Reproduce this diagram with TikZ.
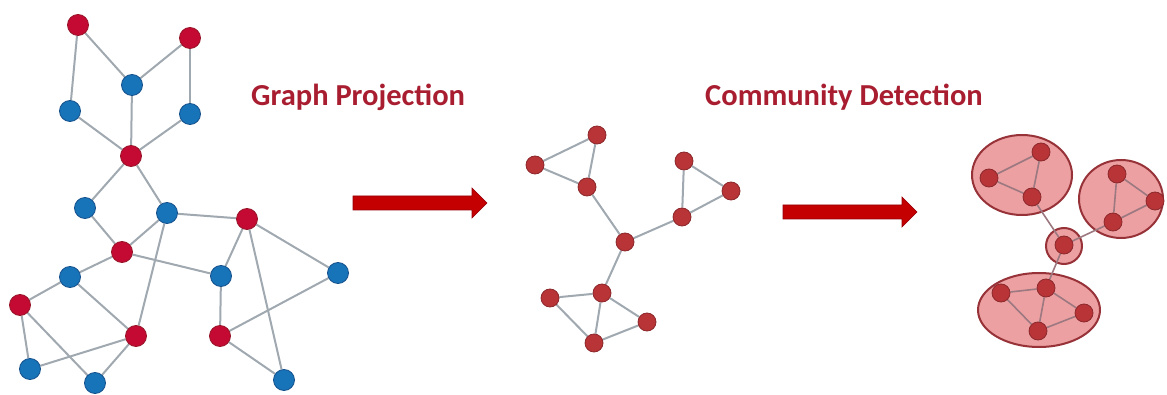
\documentclass[tikz,border=0pt]{standalone}
\usepackage{fontspec}
\setmainfont{Carlito}
\usetikzlibrary{shapes.geometric}
\definecolor{redN}{RGB}{196,10,50}
\definecolor{redNd}{RGB}{150,20,40}
\definecolor{blueN}{RGB}{24,116,184}
\definecolor{blueNd}{RGB}{20,80,140}
\definecolor{edgeG}{RGB}{160,168,176}
\definecolor{projN}{RGB}{184,52,54}
\definecolor{projNd}{RGB}{140,40,44}
\definecolor{commFill}{RGB}{236,160,162}
\definecolor{commLine}{RGB}{150,50,56}
\definecolor{arrowR}{RGB}{196,0,0}
\definecolor{arrowRd}{RGB}{150,0,10}
\definecolor{titleR}{RGB}{168,30,48}
\pgfdeclarelayer{back}
\pgfdeclarelayer{mid}
\pgfsetlayers{back,mid,main}
\tikzset{
  rn/.style={circle,fill=redN,draw=redNd,line width=0.8pt,minimum size=21pt,inner sep=0pt},
  bn/.style={circle,fill=blueN,draw=blueNd,line width=0.8pt,minimum size=21pt,inner sep=0pt},
  pn/.style={circle,fill=projN,draw=projNd,line width=0.8pt,minimum size=18pt,inner sep=0pt},
  ln/.style={edgeG,line width=2pt},
  cln/.style={edgeG!60!commLine,line width=1.6pt},
  comm/.style={ellipse,fill=commFill,draw=commLine,line width=2pt,inner sep=0pt},
  bigarrow/.style={fill=arrowR,draw=arrowRd,line width=0.6pt},
  title/.style={font=\bfseries\fontsize{30.5}{33}\selectfont,text=titleR,anchor=base west,inner sep=0pt}
}
\begin{document}
\begin{tikzpicture}[x=1pt,y=-1pt]
\useasboundingbox (0,0) rectangle (1167,395);

% ---- bipartite graph ----
\node[rn] (r1) at (78,25) {};
\node[rn] (r2) at (190,38) {};
\node[bn] (b1) at (132,85) {};
\node[bn] (b2) at (70,111) {};
\node[bn] (b3) at (190,114) {};
\node[rn] (r3) at (131,156) {};
\node[bn] (b4) at (85,208) {};
\node[bn] (b5) at (167,213) {};
\node[rn] (r4) at (247,219) {};
\node[rn] (r5) at (122,252) {};
\node[bn] (b6) at (70,277) {};
\node[bn] (b7) at (221,276) {};
\node[bn] (b8) at (338,273) {};
\node[rn] (r6) at (20,305) {};
\node[rn] (r7) at (136,336) {};
\node[rn] (r8) at (220,336) {};
\node[bn] (b9) at (30,369) {};
\node[bn] (b10) at (95,383) {};
\node[bn] (b11) at (284,380) {};

% ---- projected graph ----
\node[pn] (m1) at (597,135) {};
\node[pn] (m2) at (535,165) {};
\node[pn] (m3) at (587,187) {};
\node[pn] (m4) at (684,161) {};
\node[pn] (m5) at (731,191) {};
\node[pn] (m6) at (682,217) {};
\node[pn] (m7) at (625,242) {};
\node[pn] (m8) at (602,293) {};
\node[pn] (m9) at (550,298) {};
\node[pn] (m10) at (647,322) {};
\node[pn] (m11) at (594,343) {};

% ---- detected communities ----
\begin{pgfonlayer}{back}
\node[comm,minimum width=100pt,minimum height=80pt] (ca) at (1022,175) {};
\node[comm,minimum width=84pt,minimum height=78pt] (cb) at (1121,199) {};
\node[comm,minimum width=122pt,minimum height=74pt] (cc) at (1039,310) {};
\node[comm,minimum width=36pt,minimum height=36pt] (cd) at (1064,246) {};
\end{pgfonlayer}

\node[pn] (c1) at (1041,152) {};
\node[pn] (c2) at (989,178) {};
\node[pn] (c3) at (1032,197) {};
\node[pn] (c4) at (1117,174) {};
\node[pn] (c5) at (1155,201) {};
\node[pn] (c6) at (1113,222) {};
\node[pn] (c7) at (1064,245) {};
\node[pn] (c8) at (1001,293) {};
\node[pn] (c9) at (1046,288) {};
\node[pn] (c10) at (1084,313) {};
\node[pn] (c11) at (1038,331) {};

% ---- edges, kept under the nodes ----
\begin{pgfonlayer}{mid}
\foreach \a/\b in {r1/b2,r1/b1,r2/b1,r2/b3,b1/r3,b2/r3,b3/r3,r3/b4,r3/b5,
  b4/r5,b5/r5,b5/r4,b5/r7,r5/b6,r5/b7,r4/b7,r4/b8,r4/b11,b6/r6,b6/r7,
  r6/b9,r6/b10,r7/b9,r7/b10,b7/r8,r8/b8,r8/b11}
  \draw[ln] (\a) -- (\b);
\foreach \a/\b in {m1/m2,m1/m3,m2/m3,m3/m7,m4/m5,m4/m6,m5/m6,m6/m7,m7/m8,
  m8/m9,m8/m10,m8/m11,m9/m11,m10/m11}
  \draw[ln] (\a) -- (\b);
\foreach \a/\b in {c1/c2,c1/c3,c2/c3,c3/c7,c4/c5,c4/c6,c5/c6,c6/c7,c7/c9,
  c8/c9,c9/c10,c9/c11,c8/c11,c10/c11}
  \draw[cln] (\a) -- (\b);
\end{pgfonlayer}

% ---- arrows ----
\draw[bigarrow] (353,196) -- (472,196) -- (472,188) -- (487,203) -- (472,218) -- (472,210) -- (353,210) -- cycle;
\draw[bigarrow] (783,205) -- (902,205) -- (902,197) -- (917,212) -- (902,227) -- (902,219) -- (783,219) -- cycle;

% ---- titles ----
\node[title] (t1) at (251,106) {Graph Projection};
\node[title] (t2) at (705,106) {Community Detection};
\end{tikzpicture}
\end{document}
